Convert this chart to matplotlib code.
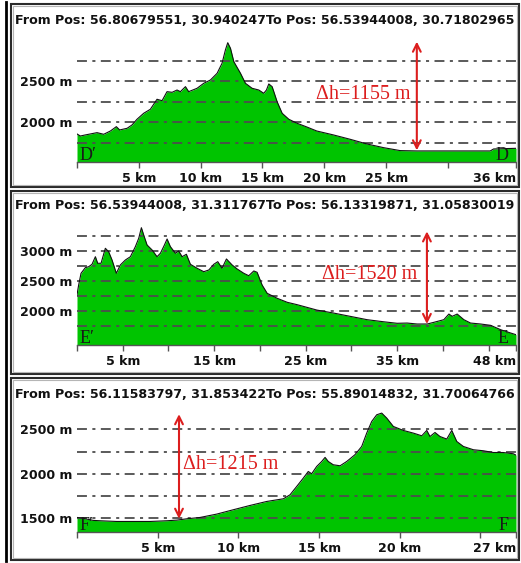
# elevation profiles D'-D, E'-E, F'-F (three stacked panels)

import matplotlib.pyplot as plt
from matplotlib.patches import Rectangle
from matplotlib.lines import Line2D

W, H = 521, 563

# ---- data ----
titles = [
    "From Pos: 56.80679551, 30.940247To Pos: 56.53944008, 30.71802965",
    "From Pos: 56.53944008, 31.311767To Pos: 56.13319871, 31.05830019",
    "From Pos: 56.11583797, 31.853422To Pos: 55.89014832, 31.70064766",
]

d_km = [0, 0.27, 0.67, 1.08, 1.62, 2.16, 2.70, 3.18, 3.45, 4.05, 4.45, 4.85, 5.39, 5.93,
        6.47, 6.88, 7.28, 7.69, 8.09, 8.36, 8.77, 9.03, 9.71, 10.25, 10.79, 11.33, 11.73,
        12.00, 12.19, 12.41, 12.68, 13.22, 13.62, 14.16, 14.70, 15.10, 15.32, 15.51, 15.78,
        16.18, 16.59, 17.13, 17.80, 18.5, 19.39, 20.74, 22.09, 23.44, 24.79, 26.13, 27.48,
        28.83, 31.53, 33.42, 33.69, 35.5]
d_m = [1860, 1835, 1848, 1860, 1876, 1856, 1896, 1949, 1909, 1929, 1970, 2039, 2112, 2161,
       2283, 2266, 2376, 2368, 2396, 2376, 2437, 2376, 2417, 2478, 2518, 2600, 2722,
       2884, 2973, 2905, 2742, 2600, 2478, 2417, 2396, 2356, 2396, 2470, 2437,
       2254, 2112, 2039, 1990, 1950, 1896, 1848, 1795, 1738, 1693, 1657, 1653,
       1653, 1653, 1653, 1677, 1685]

e_km = [0, 0.18, 0.44, 0.91, 1.28, 1.64, 2.01, 2.26, 2.63, 3.10, 3.46, 3.83, 4.30, 4.74,
        5.29, 5.84, 6.38, 6.75, 7.04, 7.29, 7.66, 8.21, 8.75, 9.12, 9.56, 9.85, 10.21,
        10.76, 11.12, 11.49, 11.96, 12.40, 13.13, 13.86, 14.41, 14.95, 15.39, 15.86, 16.34,
        16.96, 17.51, 18.24, 18.78, 19.33, 19.69, 20.24, 20.79, 21.88, 22.98, 24.07, 26.24,
        28.07, 29.89, 31.72, 33.54, 35.0, 36.1, 37.19, 38.29, 39.02, 40.11, 40.66, 41.03,
        41.57, 42.3, 43.03, 44.13, 45.22, 46.32, 47.41, 48.0]
e_m = [2262, 2428, 2623, 2717, 2733, 2773, 2900, 2790, 2790, 3040, 2983, 2845, 2623, 2762,
       2845, 2900, 3067, 3207, 3383, 3262, 3095, 3012, 2900, 2957, 3095, 3195, 3067,
       2957, 2995, 2900, 2940, 2773, 2707, 2650, 2678, 2773, 2817, 2707, 2862,
       2762, 2695, 2623, 2583, 2662, 2640, 2428, 2290, 2207, 2140, 2100, 2010,
       1960, 1905, 1850, 1815, 1790, 1794, 1778, 1778, 1806, 1850, 1944, 1906,
       1944, 1850, 1794, 1778, 1756, 1683, 1628, 1600]

f_km = [0, 0.29, 0.60, 1.01, 1.43, 2.46, 3.49, 4.52, 5.56, 6.18, 6.80, 7.62, 8.66, 9.69,
        10.72, 11.76, 12.79, 13.20, 13.61, 14.02, 14.33, 14.54, 14.85, 15.16, 15.37, 15.57,
        15.88, 16.30, 16.71, 17.22, 17.64, 17.95, 18.26, 18.57, 18.88, 19.19, 19.60, 20.22,
        20.84, 21.36, 21.67, 21.87, 22.18, 22.49, 22.91, 23.22, 23.53, 23.94, 24.56, 25.17,
        25.79, 26.41, 27.03, 27.2]
f_m = [1509, 1502, 1491, 1476, 1472, 1464, 1464, 1464, 1472, 1479, 1494, 1509, 1547, 1596,
       1644, 1689, 1719, 1764, 1857, 1951, 2026, 2000, 2082, 2138, 2184, 2138,
       2101, 2090, 2138, 2214, 2307, 2457, 2588, 2663, 2682, 2626, 2532, 2487,
       2457, 2427, 2487, 2419, 2464, 2419, 2390, 2487, 2363, 2307, 2270, 2259,
       2239, 2239, 2225, 2210]

profiles = [(d_km, d_m), (e_km, e_m), (f_km, f_m)]
ends = ["36 km", "48 km", "27 km"]
xticks = [[0, 5, 10, 15, 20, 25, 30, 35.5],
          [0, 5, 10, 15, 20, 25, 30, 35, 40, 45, 48],
          [0, 5, 10, 15, 20, 25, 27.2]]
xticklabels = [["", "5 km", "10 km", "15 km", "20 km", "25 km", "", ""],
               ["", "5 km", "", "15 km", "", "25 km", "", "35 km", "", "", ""],
               ["", "5 km", "10 km", "15 km", "20 km", "", ""]]
ylabeled = [[2000, 2500], [2000, 2500, 3000], [1500, 2000, 2500]]
grids = [[1750, 2000, 2250, 2500, 2750],
         [1750, 2000, 2250, 2500, 2750, 3000, 3250],
         [1500, 1750, 2000, 2250, 2500]]
ylims = [(1518, 3128), (1433, 3545), (1349, 2773)]
ends_left = [("D\u2032", "D"), ("E\u2032", "E"), ("F\u2032", "F")]

# delta h annotation: arrow x, arrow top, arrow bottom, text x, text y, text
dh = [(27.48, 2986, 1660, 26.94, 2344, "\u0394h=1155 m", 'right'),
      (38.26, 3322, 1778, 37.2, 2600, "\u0394h=1520 m", 'right'),
      (6.32, 2670, 1494, 6.57, 2101, "\u0394h=1215 m", 'left')]

# ---- layout in pixels (top, bottom of each panel box / plot area) ----
boxes = [(4, 187), (191, 374), (378, 560)]
title_y = [20, 205.5, 394.5]
plot_tb = [(30, 162), (218, 344.7), (405, 531.7)]

GREEN = '#00c400'
RED = '#dc1e1e'
SANS = dict(fontsize=9.1, fontweight='bold', color='#111111')
SERIF = ['Liberation Serif', 'DejaVu Serif']

fig = plt.figure(figsize=(W / 100, H / 100), dpi=100)
fig.patch.set_facecolor('white')

# outer black line on the left
fig.add_artist(Line2D([5.5 / W, 5.5 / W], [1 - 2 / H, 1 - 561 / H], color='black', lw=2,
                      transform=fig.transFigure))

for i in range(3):
    top, bot = boxes[i]
    fig.add_artist(Rectangle((11 / W, 1 - bot / H), (519 - 11) / W, (bot - top) / H,
                             fill=False, ec='#2a2a2a', lw=1.5, transform=fig.transFigure))
    fig.add_artist(Rectangle((13 / W, 1 - (bot - 2) / H), (517 - 13) / W, (bot - top - 4) / H,
                             fill=False, ec='#b5b5b5', lw=0.8, transform=fig.transFigure))
    fig.text(15 / W, 1 - title_y[i] / H, titles[i], ha='left', va='center', **SANS)

    pt, pb = plot_tb[i]
    ax = fig.add_axes([77 / W, 1 - pb / H, (516 - 77) / W, (pb - pt) / H])
    ax.patch.set_alpha(0)
    km, m = profiles[i]
    ylo, yhi = ylims[i]
    ax.fill_between(km, m, ylo, color=GREEN, lw=0, zorder=1)
    ax.plot(km, m, color='#111111', lw=0.8, zorder=3)
    for g in grids[i]:
        ax.axhline(g, color='#4d4d4d', lw=1.3, ls=(0, (5.5, 3, 1.7, 3)), zorder=2)
    ax.set_xlim(0, km[-1])
    ax.set_ylim(ylo, yhi)
    for s in ['top', 'right', 'left']:
        ax.spines[s].set_visible(False)
    ax.spines['bottom'].set_color('#555555')
    ax.spines['bottom'].set_linewidth(1)

    ax.set_xticks(xticks[i])
    ax.set_xticklabels(xticklabels[i], **SANS)
    ax.tick_params(axis='x', length=4.3, width=1, color='#555555', pad=3)
    ax.annotate(ends[i], xy=(1, 0), xycoords='axes fraction', xytext=(0, -7.3),
                textcoords='offset points', ha='right', va='top', **SANS)
    ax.set_yticks(ylabeled[i])
    ax.set_yticklabels(["%d m" % v for v in ylabeled[i]], **SANS)
    ax.tick_params(axis='y', length=0, pad=3.5)

    # end point letters
    a, b = ends_left[i]
    ax.text(0.006, 0.015, a, transform=ax.transAxes, ha='left', va='baseline',
            fontsize=13, family=SERIF, color='#1a1a1a', zorder=4)
    ax.text(0.982, 0.015, b, transform=ax.transAxes, ha='right', va='baseline',
            fontsize=13, family=SERIF, color='#1a1a1a', zorder=4)

    # height difference
    xa, ytop, ybot, xt, yt, txt, ha = dh[i]
    ax.annotate('', xy=(xa, ytop), xytext=(xa, ybot),
                arrowprops=dict(arrowstyle='<->', color=RED, lw=1.5, mutation_scale=14,
                                shrinkA=0, shrinkB=0), zorder=5)
    ax.text(xt, yt, txt, ha=ha, va='center', fontsize=14.5, family=SERIF, color=RED, zorder=5)

fig.savefig('out.png', dpi=100)
